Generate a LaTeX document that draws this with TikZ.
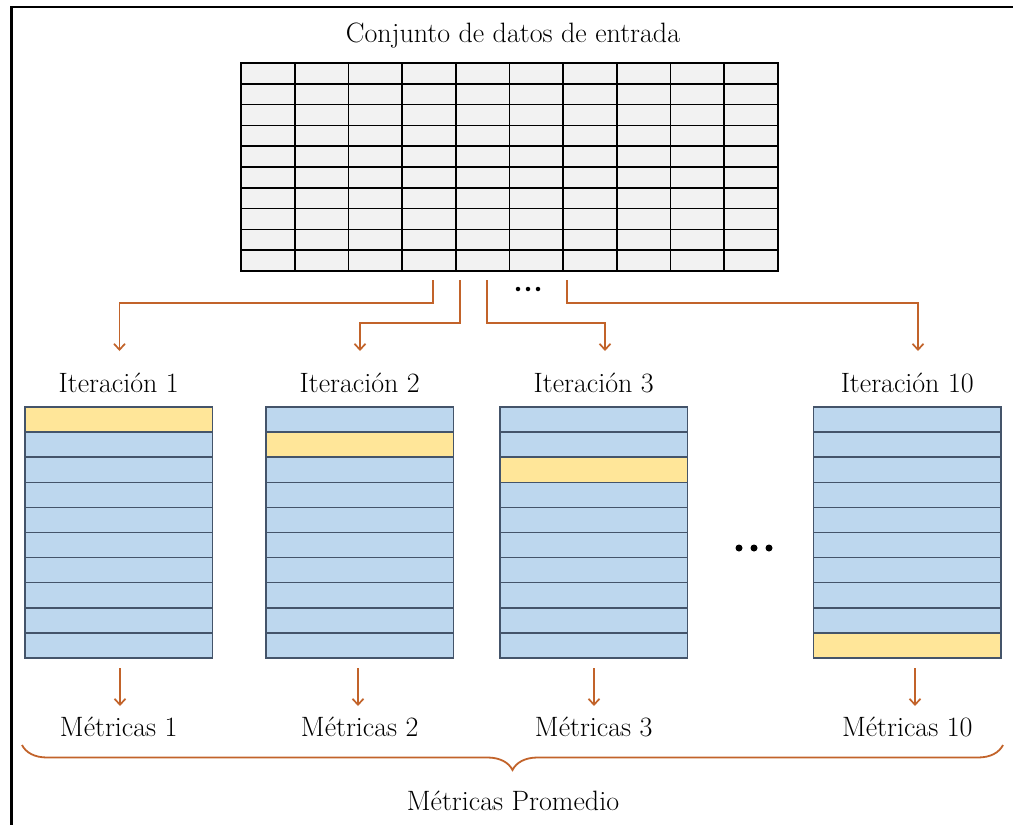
\documentclass[tikz,border=0pt]{standalone}
\usetikzlibrary{arrows.meta,decorations.pathreplacing}
\definecolor{cellgray}{HTML}{F2F2F2}
\definecolor{rowblue}{HTML}{BDD7EE}
\definecolor{rowyellow}{HTML}{FFE699}
\definecolor{rowline}{HTML}{44546A}
\definecolor{arrorange}{HTML}{C2632A}
\begin{document}
\begin{tikzpicture}[x=1pt,y=-1pt,
  txt/.style={inner sep=0pt, font=\fontsize{28}{33}\selectfont, anchor=base},
  cellbox/.style={draw=black, line width=1.7pt, fill=cellgray},
  rowbox/.style={draw=rowline, line width=1.5pt, fill=rowblue},
  hirow/.style={draw=rowline, line width=1.5pt, fill=rowyellow},
  arr/.style={draw=arrorange, line width=1.7pt, -{Straight Barb[length=6pt,width=11pt]}},
  dot/.style={circle, fill=black, inner sep=0pt},
  frameline/.style={draw=black, line width=2.5pt}]
\useasboundingbox (0,0) rectangle (1013,825);
% frame
\draw[frameline] (11.5,825) -- (11.5,7) -- (1013,7);
% title
\node[txt] (title) at (513,42) {Conjunto de datos de entrada};
% table
\node[inner sep=0pt, minimum width=537pt, minimum height=208pt] (tbl) at (509.5,167) {};
\foreach \i in {0,...,9}
  \foreach \j in {0,...,9}
    \draw[cellbox] ({241+\i*53.7},{63+\j*20.8}) rectangle ++(53.7,20.8);
% top dots
\node[dot, minimum size=4.5pt] (d1) at (518,289) {};
\node[dot, minimum size=4.5pt] (d2) at (528,289) {};
\node[dot, minimum size=4.5pt] (d3) at (538,289) {};
% stubs and targets
\coordinate (s1) at (433,280);
\coordinate (s2) at (460,280);
\coordinate (s3) at (487,280);
\coordinate (s4) at (567,280);
\coordinate (t1) at (119.5,351);
\coordinate (t2) at (360,351);
\coordinate (t3) at (605,351);
\coordinate (t4) at (918,351);
\draw[arr] (s1) -- ++(0,23) -| (t1);
\draw[arr] (s2) -- ++(0,43) -| (t2);
\draw[arr] (s3) -- ++(0,43) -| (t3);
\draw[arr] (s4) -- ++(0,23) -| (t4);
% blocks
\foreach \L/\h/\n in {25/0/1, 266/1/2, 500/2/3, 813.5/9/10}{
  \node[txt] (I\n) at ({\L+93.75},392) {Iteración \n};
  \node[inner sep=0pt, minimum width=187.5pt, minimum height=251pt] (B\n) at ({\L+93.75},532.5) {};
  \foreach \r in {0,...,9}
    \draw[rowbox] (\L,{407+\r*25.1}) rectangle ++(187.5,25.1);
  \draw[hirow] (\L,{407+\h*25.1}) rectangle ++(187.5,25.1);
  \node[txt] (M\n) at ({\L+93.75},736) {Métricas \n};
}
% middle dots
\node[dot, minimum size=7pt] (e1) at (739,548) {};
\node[dot, minimum size=7pt] (e2) at (754,548) {};
\node[dot, minimum size=7pt] (e3) at (769,548) {};
% bottom arrows
\coordinate (u1) at (120,668);
\coordinate (u2) at (358,668);
\coordinate (u3) at (594,668);
\coordinate (u4) at (915,668);
\coordinate (v1) at (120,706);
\coordinate (v2) at (358,706);
\coordinate (v3) at (594,706);
\coordinate (v4) at (915,706);
\draw[arr] (u1) -- (v1);
\draw[arr] (u2) -- (v2);
\draw[arr] (u3) -- (v3);
\draw[arr] (u4) -- (v4);
% brace
\coordinate (bl) at (22,745);
\coordinate (br) at (1003,745);
\draw[draw=arrorange, line width=1.8pt, decorate, decoration={brace, mirror, amplitude=25pt, aspect=0.5}] (bl) -- (br);
\node[txt] (avg) at (513,810) {Métricas Promedio};
\end{tikzpicture}
\end{document}
